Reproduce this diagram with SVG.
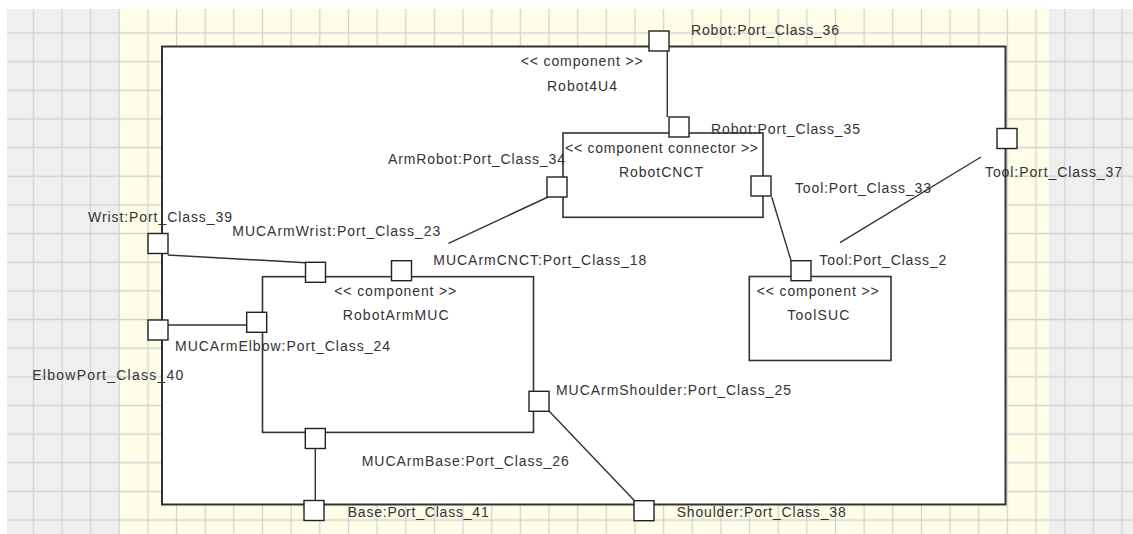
<svg xmlns="http://www.w3.org/2000/svg" width="1133" height="534" viewBox="0 0 1133 534">
  <style>
    .bx { fill: #ffffff; stroke: #333333; stroke-width: 1.6; }
    .outer { fill: #ffffff; stroke: #333333; stroke-width: 2; }
    .port { fill: #ffffff; stroke: #222222; stroke-width: 1.4; }
    .con { fill: none; stroke: #333333; stroke-width: 1.4; }
    text { font-family: "Liberation Sans", Arial, sans-serif; font-size: 14px; fill: #333333; }
  </style>
  <defs>
    <pattern id="grid" patternUnits="userSpaceOnUse" x="18.975" y="18.675" width="28.65" height="28.65">
      <path d="M14.325 0 V28.65 M0 14.325 H28.65" stroke="#d2d2d2" stroke-width="1.3" fill="none"/>
    </pattern>
  </defs>
  <rect x="0" y="0" width="1133" height="534" fill="#ffffff"/>
  <rect x="7" y="9" width="1126" height="525" fill="#efefef"/>
  <rect x="120" y="9" width="929" height="525" fill="#fefee8"/>
  <rect x="7" y="9" width="1126" height="525" fill="url(#grid)"/>

  <g id="Robot4U4">
    <rect class="outer" x="162" y="46.5" width="843.5" height="458"/>
    <text x="520.7" y="65.5" textLength="122" lengthAdjust="spacing">&lt;&lt; component &gt;&gt;</text>
    <text x="547" y="90.5" textLength="70" lengthAdjust="spacing">Robot4U4</text>
  </g>
  <g id="RobotCNCT">
    <rect class="bx" x="563" y="133" width="200" height="84.3"/>
    <text x="565" y="152.5" textLength="193" lengthAdjust="spacing">&lt;&lt; component connector &gt;&gt;</text>
    <text x="619" y="176.5" textLength="84" lengthAdjust="spacing">RobotCNCT</text>
  </g>
  <g id="RobotArmMUC">
    <rect class="bx" x="262.5" y="276.7" width="271" height="155.7"/>
    <text x="334.3" y="296" textLength="122" lengthAdjust="spacing">&lt;&lt; component &gt;&gt;</text>
    <text x="342.7" y="320" textLength="106" lengthAdjust="spacing">RobotArmMUC</text>
  </g>
  <g id="ToolSUC">
    <rect class="bx" x="749.3" y="276.5" width="141.7" height="84"/>
    <text x="756.7" y="296" textLength="122" lengthAdjust="spacing">&lt;&lt; component &gt;&gt;</text>
    <text x="787.3" y="320" textLength="62" lengthAdjust="spacing">ToolSUC</text>
  </g>

  <g id="connectors">
    <path class="con" d="M667.3 51 V117"/>
    <path class="con" d="M548 197 L448.5 243.3"/>
    <path class="con" d="M167.7 255 L305.7 262.7"/>
    <path class="con" d="M167.7 325 H246.7"/>
    <path class="con" d="M771.7 197 L791 260.5"/>
    <path class="con" d="M981 157 L840 242.7"/>
    <path class="con" d="M549 411 L634.3 500.5"/>
    <path class="con" d="M315.3 449 V500.3"/>
  </g>

  <g id="port36"><rect class="port" x="649" y="31" width="20" height="20"/><text x="691" y="34.5" textLength="148" lengthAdjust="spacing">Robot:Port_Class_36</text></g>
  <g id="port35"><rect class="port" x="669" y="117" width="20" height="20"/><text x="711" y="133.5" textLength="149" lengthAdjust="spacing">Robot:Port_Class_35</text></g>
  <g id="port34"><rect class="port" x="547" y="177" width="20" height="20"/><text x="388" y="164" textLength="177" lengthAdjust="spacing">ArmRobot:Port_Class_34</text></g>
  <g id="port33"><rect class="port" x="751" y="176" width="20" height="20"/><text x="795" y="192.5" textLength="136" lengthAdjust="spacing">Tool:Port_Class_33</text></g>
  <g id="port37"><rect class="port" x="997" y="128.5" width="20" height="20"/><text x="985" y="177" textLength="137" lengthAdjust="spacing">Tool:Port_Class_37</text></g>
  <g id="port39"><rect class="port" x="148" y="233.5" width="20" height="20"/><text x="88" y="221.5" textLength="144" lengthAdjust="spacing">Wrist:Port_Class_39</text></g>
  <g id="port40"><rect class="port" x="148" y="320" width="20" height="20"/><text x="32.3" y="379.5" textLength="151" lengthAdjust="spacing">ElbowPort_Class_40</text></g>
  <g id="port23"><rect class="port" x="305.5" y="262.3" width="20" height="20"/><text x="232.3" y="235.5" textLength="208" lengthAdjust="spacing">MUCArmWrist:Port_Class_23</text></g>
  <g id="port18"><rect class="port" x="391.5" y="260.7" width="20" height="20"/><text x="433.3" y="264.5" textLength="213" lengthAdjust="spacing">MUCArmCNCT:Port_Class_18</text></g>
  <g id="port24"><rect class="port" x="246.7" y="312.3" width="20" height="20"/><text x="175" y="350.5" textLength="215" lengthAdjust="spacing">MUCArmElbow:Port_Class_24</text></g>
  <g id="port2"><rect class="port" x="791" y="260.7" width="20" height="20"/><text x="819.3" y="264.5" textLength="127" lengthAdjust="spacing">Tool:Port_Class_2</text></g>
  <g id="port25"><rect class="port" x="529" y="391.3" width="20" height="20"/><text x="556" y="394.5" textLength="235" lengthAdjust="spacing">MUCArmShoulder:Port_Class_25</text></g>
  <g id="port26"><rect class="port" x="305.3" y="428.5" width="20" height="20"/><text x="361.7" y="465.5" textLength="207" lengthAdjust="spacing">MUCArmBase:Port_Class_26</text></g>
  <g id="port41"><rect class="port" x="304" y="500.5" width="20" height="20"/><text x="347.7" y="517" textLength="141" lengthAdjust="spacing">Base:Port_Class_41</text></g>
  <g id="port38"><rect class="port" x="634" y="500.7" width="20" height="20"/><text x="676.7" y="517" textLength="169" lengthAdjust="spacing">Shoulder:Port_Class_38</text></g>
</svg>
